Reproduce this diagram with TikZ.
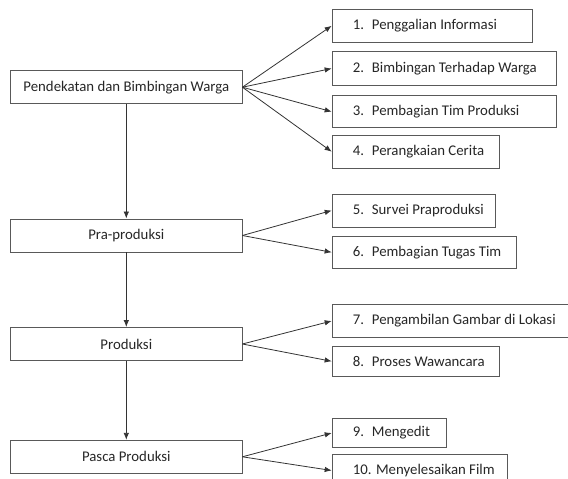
\documentclass[tikz,border=0pt]{standalone}
\usepackage{fontspec}
\setmainfont{Carlito}
\usetikzlibrary{arrows.meta}
\begin{document}
\begin{tikzpicture}[x=1pt,y=-1pt,
  mainbox/.style={draw=black!65, line width=0.9pt, minimum width=231.3pt, minimum height=33pt, inner sep=0pt, text=black!85, font=\fontsize{14.8}{16}\selectfont},
  subbox/.style={draw=black!65, line width=0.9pt, minimum height=33pt, inner sep=0pt, anchor=west},
  lbl/.style={anchor=west, inner sep=0pt, font=\fontsize{14.8}{16}\selectfont, text=black!85},
  arr/.style={draw=black!80, line width=0.8pt, -{Latex[length=7pt,width=5.5pt]}}]
\useasboundingbox (0,0) rectangle (568,479);
\clip (0,0) rectangle (568,479);
\newcommand{\numlbl}[2]{\makebox[19pt][l]{#1}#2}
% main boxes
\node[mainbox] (A) at (126.3,87.2) {Pendekatan dan Bimbingan Warga};
\node[mainbox] (B) at (126.3,235.5) {Pra-produksi};
\node[mainbox] (C) at (126.3,344) {Produksi};
\node[mainbox] (D) at (126.3,456.8) {Pasca Produksi};
% sub boxes
\node[subbox, minimum width=200pt] (R1) at (331.7,25.8) {};
\node[lbl] (t1) at (352.7,25.8) {\numlbl{1.}{Penggalian Informasi}};
\node[subbox, minimum width=224.3pt, minimum height=33.6pt] (R2) at (331.7,68.5) {};
\node[lbl] (t2) at (352.7,68.5) {\numlbl{2.}{Bimbingan Terhadap Warga}};
\node[subbox, minimum width=224.3pt, minimum height=32pt] (R3) at (331.7,111.7) {};
\node[lbl] (t3) at (352.7,111.7) {\numlbl{3.}{Pembagian Tim Produksi}};
\node[subbox, minimum width=167.6pt] (R4) at (331.7,151.7) {};
\node[lbl] (t4) at (352.7,151.7) {\numlbl{4.}{Perangkaian Cerita}};
\node[subbox, minimum width=163.3pt] (R5) at (331.7,210.5) {};
\node[lbl] (t5) at (352.7,210.5) {\numlbl{5.}{Survei Praproduksi}};
\node[subbox, minimum width=184pt, minimum height=32.7pt] (R6) at (331.7,252.3) {};
\node[lbl] (t6) at (352.7,252.3) {\numlbl{6.}{Pembagian Tugas Tim}};
\node[subbox, minimum width=250pt, minimum height=32.5pt] (R7) at (331.7,321) {};
\node[lbl] (t7) at (352.7,321) {\numlbl{7.}{Pengambilan Gambar di Lokasi}};
\node[subbox, minimum width=167.6pt, minimum height=30.7pt] (R8) at (331.7,361.3) {};
\node[lbl] (t8) at (352.7,361.3) {\numlbl{8.}{Proses Wawancara}};
\node[subbox, minimum width=114.3pt, minimum height=29.4pt] (R9) at (331.7,433) {};
\node[lbl] (t9) at (352.7,433) {\numlbl{9.}{Mengedit}};
\node[subbox, minimum width=175pt] (R10) at (331.7,470.5) {};
\node[lbl] (t10) at (352.7,470.5) {10. Menyelesaikan Film};
% vertical arrows
\draw[arr] (A) -- (B);
\draw[arr] (B) -- (C);
\draw[arr] (C) -- (D);
% fan arrows
\foreach \s/\t in {A/R1,A/R2,A/R3,A/R4,B/R5,B/R6,C/R7,C/R8,D/R9,D/R10}
  \draw[arr] (\s.east) -- (\t.west);
\end{tikzpicture}
\end{document}
